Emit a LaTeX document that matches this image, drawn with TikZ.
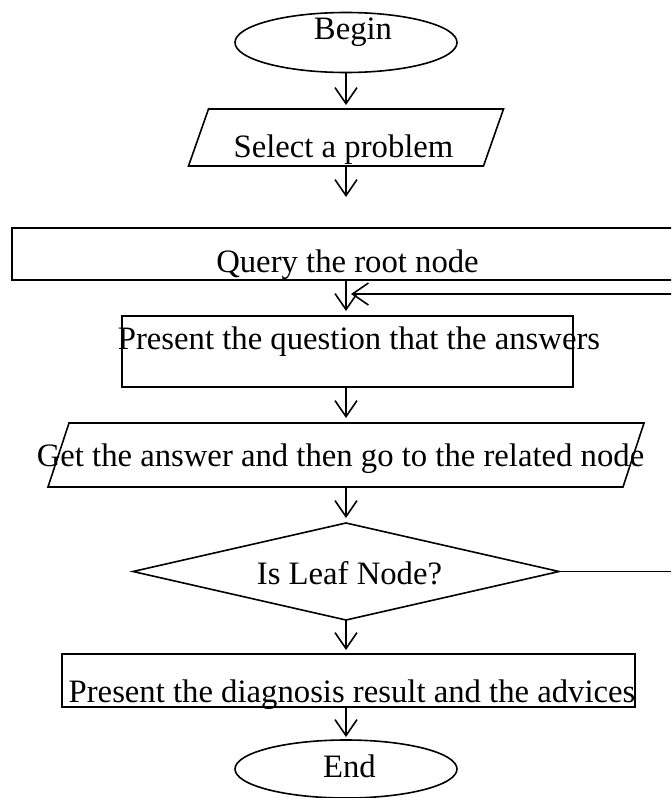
\documentclass[tikz,border=0pt]{standalone}
\usepackage{fontspec}
\setmainfont{Liberation Serif}
\usetikzlibrary{shapes.geometric,arrows.meta}
\newcommand{\lean}[2]{\draw ([xshift=-#2]#1.south west) -- ([xshift=-#2]#1.south east) -- ([xshift=#2]#1.north east) -- ([xshift=#2]#1.north west) -- cycle;}

\begin{document}
\begin{tikzpicture}[x=0.5pt,y=-0.5pt,line width=0.8pt,
  every node/.style={inner sep=0pt,outer sep=0pt},
  txt/.style={anchor=base,font=\fontsize{16.35pt}{20pt}\selectfont},
  oval/.style={draw,ellipse,minimum width=111pt,minimum height=30pt},
  box/.style={draw,rectangle},
  io/.style={rectangle},
  ask/.style={draw,diamond,minimum width=213pt,minimum height=48.5pt},
  arr/.style={-{Straight Barb[length=8pt,width=11pt]},shorten >=2.5pt}]
\useasboundingbox (0,0) rectangle (671,798);
\clip (0,0) rectangle (671,798);
\node[oval] (begin) at (346,42.5) {};
\node[io,minimum width=147.5pt,minimum height=28.5pt] (select) at (346,137.5) {};
\lean{select}{5pt}
\node[box,minimum width=334pt,minimum height=26pt] (query) at (346,254) {};
\node[box,minimum width=225.5pt,minimum height=35.5pt] (question) at (347.5,351.5) {};
\node[io,minimum width=287.5pt,minimum height=32pt] (answer) at (346,455) {};
\lean{answer}{5.25pt}
\node[ask] (leaf) at (346,571.5) {};
\node[box,minimum width=286.5pt,minimum height=26.5pt] (result) at (348.5,680.5) {};
\node[oval,minimum height=29pt] (end) at (346,769) {};
\coordinate (back) at (351,294);
\node[txt] (tbegin) at (353,39.5) {Begin};
\node[txt] (tselect) at (343.5,157) {Select a problem};
\node[txt] (tquery) at (347.5,272) {Query the root node};
\node[txt] (tquestion) at (359,349) {Present the question that the answers};
\node[txt] (tanswer) at (340.5,466) {Get the answer and then go to the related node};
\node[txt] (tleaf) at (349.5,584) {Is Leaf Node?};
\node[txt] (tresult) at (352,702) {Present the diagnosis result and the advices};
\node[txt] (tend) at (349.5,777) {End};
\draw[arr,shorten >=2pt] (begin) -- (select);
\draw[arr,shorten >=15.5pt] (select) -- (query);
\draw[arr] (query.south) -- (query.south |- question.north);
\draw[arr] (question.south -| query.south) -- (answer);
\draw[arr] (answer) -- (leaf);
\draw[arr,shorten >=2pt] (leaf) -- (leaf |- result.north);
\draw[arr,shorten >=1.5pt] (leaf |- result.south) -- (end);
\draw[arr,shorten >=0pt] (leaf.east) -- ++(150,0) |- (back);
\end{tikzpicture}
\end{document}
